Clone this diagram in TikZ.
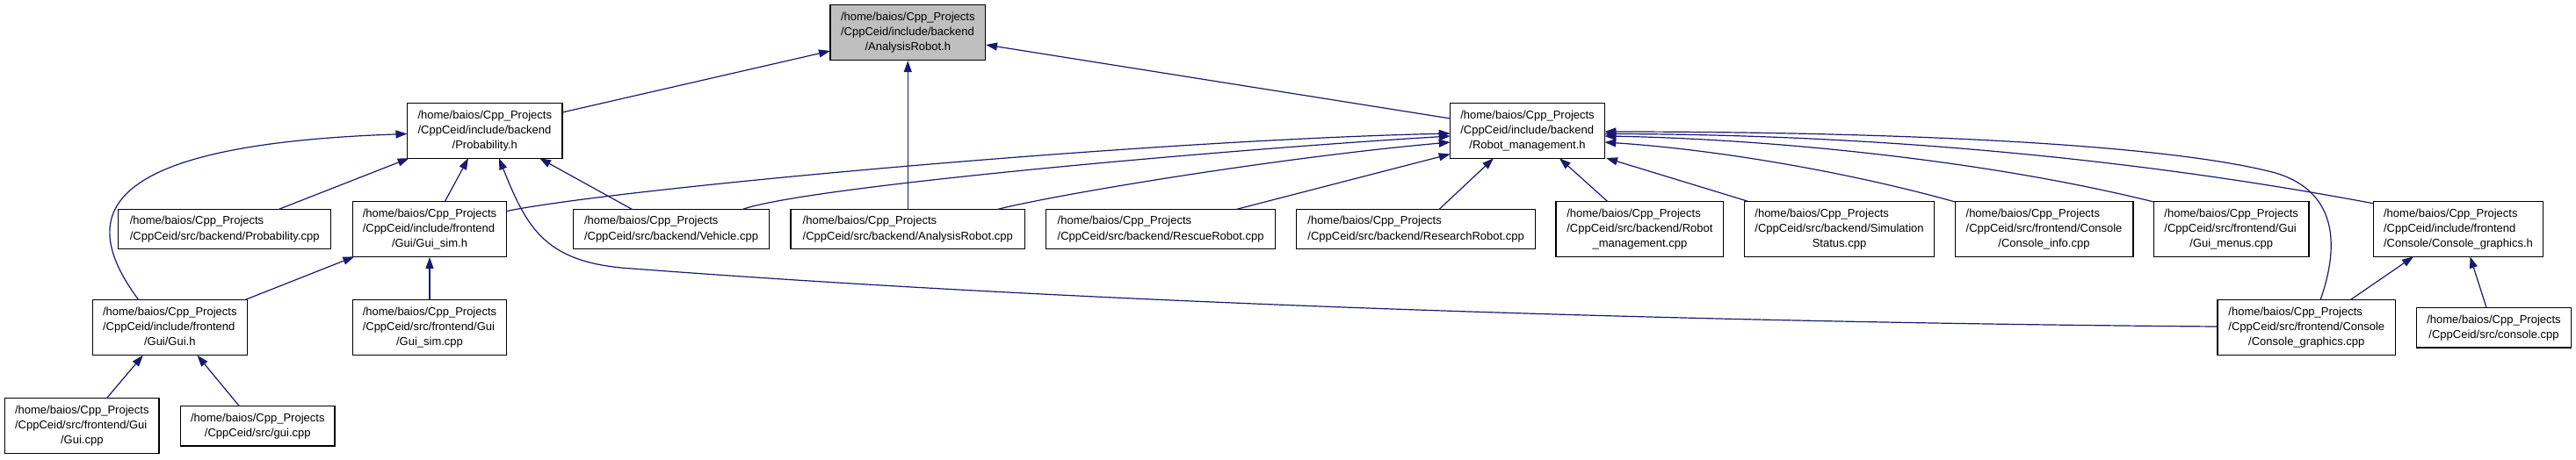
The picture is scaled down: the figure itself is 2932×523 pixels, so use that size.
\documentclass[tikz,border=0pt]{standalone}
\usepackage{fontspec}
\setmainfont{Liberation Sans}
\usetikzlibrary{arrows.meta,calc}
\definecolor{edgec}{HTML}{191970}
\definecolor{hlfill}{HTML}{BFBFBF}
\newcommand{\lbltwo}[2]{\begin{tabular}{@{}l@{}}#1\\\multicolumn{1}{@{}c@{}}{#2}\end{tabular}}
\newcommand{\lblthree}[3]{\begin{tabular}{@{}l@{}}#1\\#2\\\multicolumn{1}{@{}c@{}}{#3}\end{tabular}}
\newcommand{\hbp}{/home/baios/Cpp\_Projects}
\begin{document}
\begin{tikzpicture}[x=1pt,y=-1pt,
  font=\fontsize{13}{17.2}\selectfont,
  boxthree/.style={draw=black, line width=1.3pt, fill=white, inner sep=0pt, minimum height=63pt},
  boxtwo/.style={draw=black, line width=1.3pt, fill=white, inner sep=0pt, minimum height=45.5pt},
  edge/.style={draw=edgec, line width=1.2pt, -{Triangle[length=13pt,width=9pt]}}]
\useasboundingbox (0,0) rectangle (2932,523);
% nodes
\node[boxthree, fill=hlfill, minimum width=176.5pt] (arh) at (1033.3,37) {\lblthree{\hbp}{/CppCeid/include/backend}{/AnalysisRobot.h}};
\node[boxthree, minimum width=176.5pt] (prob) at (551.8,148.9) {\lblthree{\hbp}{/CppCeid/include/backend}{/Probability.h}};
\node[boxthree, minimum width=175.6pt] (rmh) at (1738.5,149) {\lblthree{\hbp}{/CppCeid/include/backend}{/Robot\_management.h}};
\node[boxtwo, minimum width=242pt] (probcpp) at (255.7,261) {\lbltwo{\hbp}{/CppCeid/src/backend/Probability.cpp}};
\node[boxthree, minimum width=175.3pt] (guisimh) at (489,260.8) {\lblthree{\hbp}{/CppCeid/include/frontend}{/Gui/Gui\_sim.h}};
\node[boxtwo, minimum width=223pt] (vehcpp) at (764,261) {\lbltwo{\hbp}{/CppCeid/src/backend/Vehicle.cpp}};
\node[boxtwo, minimum width=266.5pt] (arcpp) at (1033.3,261) {\lbltwo{\hbp}{/CppCeid/src/backend/AnalysisRobot.cpp}};
\node[boxtwo, minimum width=260.8pt] (rescpp) at (1321.1,261) {\lbltwo{\hbp}{/CppCeid/src/backend/RescueRobot.cpp}};
\node[boxtwo, minimum width=271.6pt] (researchcpp) at (1611.6,261) {\lbltwo{\hbp}{/CppCeid/src/backend/ResearchRobot.cpp}};
\node[boxthree, minimum width=190.7pt] (rmcpp) at (1866.4,260.8) {\lblthree{\hbp}{/CppCeid/src/backend/Robot}{\_management.cpp}};
\node[boxthree, minimum width=215.8pt] (simcpp) at (2093.5,260.8) {\lblthree{\hbp}{/CppCeid/src/backend/Simulation}{Status.cpp}};
\node[boxthree, minimum width=202.7pt] (cinfo) at (2326.5,260.8) {\lblthree{\hbp}{/CppCeid/src/frontend/Console}{/Console\_info.cpp}};
\node[boxthree, minimum width=176.4pt] (guimenus) at (2539.7,260.8) {\lblthree{\hbp}{/CppCeid/src/frontend/Gui}{/Gui\_menus.cpp}};
\node[boxthree, minimum width=193pt] (cgh) at (2798,260.8) {\lblthree{\hbp}{/CppCeid/include/frontend}{/Console/Console\_graphics.h}};
\node[boxthree, minimum width=176pt] (guih) at (193.3,373.2) {\lblthree{\hbp}{/CppCeid/include/frontend}{/Gui/Gui.h}};
\node[boxthree, minimum width=175.3pt] (guisimcpp) at (489,373.2) {\lblthree{\hbp}{/CppCeid/src/frontend/Gui}{/Gui\_sim.cpp}};
\node[boxthree, minimum width=202.7pt] (cgcpp) at (2625.3,373.2) {\lblthree{\hbp}{/CppCeid/src/frontend/Console}{/Console\_graphics.cpp}};
\node[boxtwo, minimum width=176.4pt] (consolecpp) at (2838.5,373.2) {\lbltwo{\hbp}{/CppCeid/src/console.cpp}};
\node[boxthree, minimum width=175.4pt] (guicpp) at (93.3,485.2) {\lblthree{\hbp}{/CppCeid/src/frontend/Gui}{/Gui.cpp}};
\node[boxtwo, minimum width=175.5pt] (guilcpp) at (293.3,485.2) {\lbltwo{\hbp}{/CppCeid/src/gui.cpp}};
% edges to AnalysisRobot.h
\draw[edge] ($(prob)+(88.2,-20.9)$) -- ($(arh)+(-88.3,21)$);
\draw[edge] ($(rmh)+(-87.8,-14)$) -- ($(arh)+(88.7,14)$);
\draw[edge] (arcpp.north) -- (arh.south);
% edges to Probability.h
\draw[edge] ($(probcpp)+(61.3,-22.5)$) -- ($(prob)+(-86.1,31.3)$);
\draw[edge] ($(guisimh)+(17.5,-31.5)$) -- ($(prob)+(-18.8,31.3)$);
\draw[edge] ($(vehcpp)+(-44.4,-22.5)$) -- ($(prob)+(62.2,31.3)$);
\draw[edge] ($(cgcpp)+(-101.3,-1.2)$) .. controls (2000,368) and (1300,350) .. (720,306) .. controls (620,300) and (600,260) .. ($(prob)+(16.1,31.3)$);
\draw[edge] ($(guih)+(-35.5,-31.5)$) .. controls (90,250) and (100,165) .. ($(prob)+(-88.3,3.6)$);
% Gui edges
\draw[edge] ($(guih)+(85.2,-31.5)$) -- ($(guisimh)+(-85.6,31.5)$);
\draw[edge] (guisimcpp.north) -- (guisimh.south);
\draw[edge] ($(guicpp)+(28.1,-31.5)$) -- ($(guih)+(-30.5,31.5)$);
\draw[edge] ($(guilcpp)+(-21.1,-22.8)$) -- ($(guih)+(31.2,31.5)$);
% edges to Robot_management.h
\draw[edge] ($(guisimh)+(87.6,-20.3)$) .. controls (700,215) and (1300,160) .. ($(rmh)+(-87.8,3)$);
\draw[edge] ($(vehcpp)+(81,-22.5)$) .. controls (920,212) and (1400,170) .. ($(rmh)+(-87.8,6)$);
\draw[edge] ($(arcpp)+(101.7,-22.5)$) .. controls (1200,222) and (1450,180) .. ($(rmh)+(-87.8,13)$);
\draw[edge] ($(rescpp)+(85.9,-22.5)$) -- ($(rmh)+(-87.8,26.5)$);
\draw[edge] ($(researchcpp)+(26.4,-22.5)$) -- ($(rmh)+(-38.5,31.3)$);
\draw[edge] ($(rmcpp)+(-36.9,-31.5)$) -- ($(rmh)+(36.5,31.3)$);
\draw[edge] ($(simcpp)+(-104,-31.5)$) -- ($(rmh)+(89.5,31)$);
\draw[edge] ($(cinfo)+(-101,-30.8)$) .. controls (2100,195) and (1950,170) .. ($(rmh)+(87.8,13)$);
\draw[edge] ($(guimenus)+(-88.2,-30.8)$) .. controls (2250,180) and (2000,158) .. ($(rmh)+(87.8,6)$);
\draw[edge] ($(cgh)+(-96.4,-29)$) .. controls (2400,175) and (2100,153) .. ($(rmh)+(87.8,3.5)$);
\draw[edge] ($(cgcpp)+(15.7,-31.5)$) .. controls (2668,265) and (2650,215) .. (2590,197) .. controls (2450,160) and (2100,150) .. ($(rmh)+(87.8,1)$);
% edges to Console_graphics.h
\draw[edge] ($(cgcpp)+(49.7,-31.5)$) -- ($(cgh)+(-51,31.5)$);
\draw[edge] ($(consolecpp)+(-8.5,-22.8)$) -- ($(cgh)+(13.5,31.5)$);
\end{tikzpicture}
\end{document}
